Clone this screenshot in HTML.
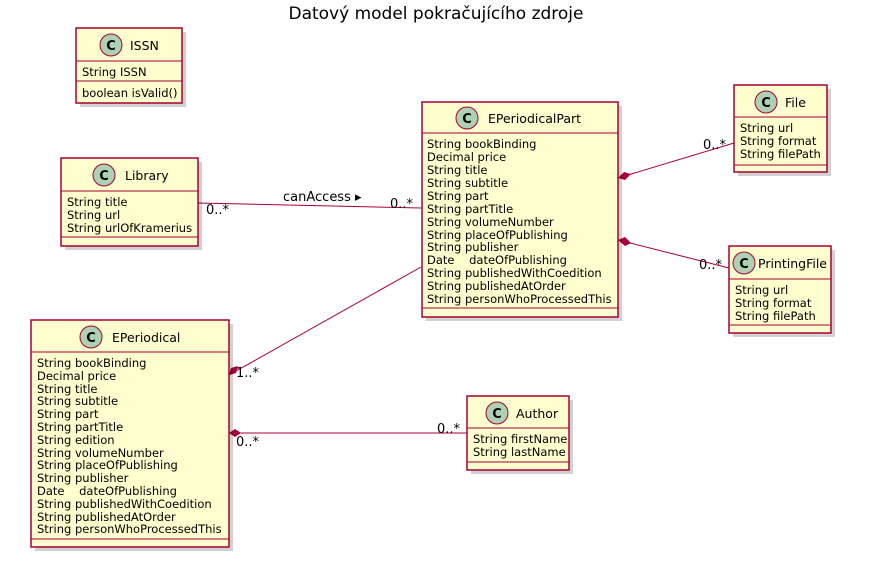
<!DOCTYPE html>
<html><head><meta charset="utf-8"><style>
html,body{margin:0;padding:0;background:#fff;}
svg{display:block;}
text{font-family:"DejaVu Sans","Liberation Sans",sans-serif;fill:#000;}
.a{font-size:11.5px;}
.l{font-size:13px;}
.h{font-size:12.5px;}
.box{fill:#FEFECE;stroke:#A80036;stroke-width:1.5;}
.sh{fill:#000;opacity:0.18;}
.ln{stroke:#A80036;stroke-width:1;fill:none;}
.c{fill:#ADD1B2;stroke:#A80036;stroke-width:1;}
.ct{font-size:13px;font-weight:bold;}
</style></head><body>
<svg width="872" height="576" viewBox="0 0 872 576" xmlns="http://www.w3.org/2000/svg">
<text x="436" y="19" font-size="17" text-anchor="middle">Datový model pokračujícího zdroje</text>

<line class="ln" x1="198" y1="203" x2="421" y2="208"/>
<text class="l" x="283" y="201">canAccess ▸</text>
<text class="l" x="206" y="214">0..*</text>
<text class="l" x="390" y="208">0..*</text>

<line class="ln" x1="618" y1="178" x2="734" y2="143"/>
<polygon points="618,178 624,172 631,174 625,180" fill="#A80036"/>
<text class="l" x="703" y="149">0..*</text>

<line class="ln" x1="618" y1="240" x2="729" y2="268"/>
<polygon points="618,240 625,237 631,243 625,246" fill="#A80036"/>
<text class="l" x="699" y="269">0..*</text>

<line class="ln" x1="421" y1="267" x2="229" y2="375"/>
<polygon points="229,375 231,368 238,366 236,373" fill="#A80036"/>
<text class="l" x="236" y="377">1..*</text>

<line class="ln" x1="229" y1="433" x2="467" y2="433"/>
<polygon points="229,433 235,429 241,433 235,437" fill="#A80036"/>
<text class="l" x="236" y="446">0..*</text>
<text class="l" x="437" y="433">0..*</text>

<rect class="sh" x="80" y="32" width="106" height="75"/>
<rect class="box" x="76" y="28" width="106" height="75"/>
<line class="ln" x1="76" y1="61" x2="182" y2="61" stroke-width="1.5"/>
<line class="ln" x1="76" y1="81" x2="182" y2="81" stroke-width="1.5"/>
<circle class="c" cx="111" cy="45" r="11"/><text class="ct" x="111" y="50" text-anchor="middle">C</text>
<text class="h" x="130" y="50">ISSN</text>
<text class="a" x="82" y="76">String ISSN</text>
<text class="a" x="82" y="97">boolean isValid()</text>

<rect class="sh" x="65" y="162" width="137" height="88"/>
<rect class="box" x="61" y="158" width="137" height="88"/>
<line class="ln" x1="61" y1="191" x2="198" y2="191" stroke-width="1.5"/>
<line class="ln" x1="61" y1="237" x2="198" y2="237" stroke-width="1.5"/>
<circle class="c" cx="104" cy="175" r="11"/><text class="ct" x="104" y="180" text-anchor="middle">C</text>
<text class="h" x="125" y="180">Library</text>
<text class="a" x="67" y="206">String title</text>
<text class="a" x="67" y="219">String url</text>
<text class="a" x="67" y="232">String urlOfKramerius</text>

<rect class="sh" x="426" y="106" width="196" height="215"/>
<rect class="box" x="422" y="102" width="196" height="215"/>
<line class="ln" x1="422" y1="133" x2="618" y2="133" stroke-width="1.5"/>
<line class="ln" x1="422" y1="308" x2="618" y2="308" stroke-width="1.5"/>
<circle class="c" cx="467" cy="118" r="11"/><text class="ct" x="467" y="123" text-anchor="middle">C</text>
<text class="h" x="488" y="123">EPeriodicalPart</text>
<g class="a">
<text x="427" y="148">String bookBinding</text>
<text x="427" y="161">Decimal price</text>
<text x="427" y="174">String title</text>
<text x="427" y="187">String subtitle</text>
<text x="427" y="200">String part</text>
<text x="427" y="213">String partTitle</text>
<text x="427" y="226">String volumeNumber</text>
<text x="427" y="239">String placeOfPublishing</text>
<text x="427" y="251">String publisher</text>
<text x="427" y="264" xml:space="preserve">Date    dateOfPublishing</text>
<text x="427" y="277">String publishedWithCoedition</text>
<text x="427" y="290">String publishedAtOrder</text>
<text x="427" y="303">String personWhoProcessedThis</text>
</g>

<rect class="sh" x="738" y="89" width="93" height="87"/>
<rect class="box" x="734" y="85" width="93" height="87"/>
<line class="ln" x1="734" y1="117" x2="827" y2="117" stroke-width="1.5"/>
<line class="ln" x1="734" y1="165" x2="827" y2="165" stroke-width="1.5"/>
<circle class="c" cx="766" cy="102" r="11"/><text class="ct" x="766" y="107" text-anchor="middle">C</text>
<text class="h" x="785" y="107">File</text>
<text class="a" x="740" y="132">String url</text>
<text class="a" x="740" y="145">String format</text>
<text class="a" x="740" y="158">String filePath</text>

<rect class="sh" x="733" y="250" width="102" height="87"/>
<rect class="box" x="729" y="246" width="102" height="87"/>
<line class="ln" x1="729" y1="279" x2="831" y2="279" stroke-width="1.5"/>
<line class="ln" x1="729" y1="325" x2="831" y2="325" stroke-width="1.5"/>
<circle class="c" cx="744" cy="263" r="11"/><text class="ct" x="744" y="268" text-anchor="middle">C</text>
<text class="h" x="758" y="268">PrintingFile</text>
<text class="a" x="735" y="294">String url</text>
<text class="a" x="735" y="307">String format</text>
<text class="a" x="735" y="320">String filePath</text>

<rect class="sh" x="35" y="324" width="198" height="227"/>
<rect class="box" x="31" y="320" width="198" height="227"/>
<line class="ln" x1="31" y1="352" x2="229" y2="352" stroke-width="1.5"/>
<line class="ln" x1="31" y1="539" x2="229" y2="539" stroke-width="1.5"/>
<circle class="c" cx="91" cy="337" r="11"/><text class="ct" x="91" y="342" text-anchor="middle">C</text>
<text class="h" x="112" y="342">EPeriodical</text>
<g class="a">
<text x="37" y="367">String bookBinding</text>
<text x="37" y="380">Decimal price</text>
<text x="37" y="393">String title</text>
<text x="37" y="405">String subtitle</text>
<text x="37" y="418">String part</text>
<text x="37" y="431">String partTitle</text>
<text x="37" y="444">String edition</text>
<text x="37" y="457">String volumeNumber</text>
<text x="37" y="469">String placeOfPublishing</text>
<text x="37" y="482">String publisher</text>
<text x="37" y="495" xml:space="preserve">Date    dateOfPublishing</text>
<text x="37" y="508">String publishedWithCoedition</text>
<text x="37" y="521">String publishedAtOrder</text>
<text x="37" y="533">String personWhoProcessedThis</text>
</g>

<rect class="sh" x="471" y="400" width="102" height="74"/>
<rect class="box" x="467" y="396" width="102" height="74"/>
<line class="ln" x1="467" y1="428" x2="569" y2="428" stroke-width="1.5"/>
<line class="ln" x1="467" y1="462" x2="569" y2="462" stroke-width="1.5"/>
<circle class="c" cx="497" cy="413" r="11"/><text class="ct" x="497" y="418" text-anchor="middle">C</text>
<text class="h" x="516" y="418">Author</text>
<text class="a" x="473" y="443">String firstName</text>
<text class="a" x="473" y="456">String lastName</text>
</svg>
</body></html>
